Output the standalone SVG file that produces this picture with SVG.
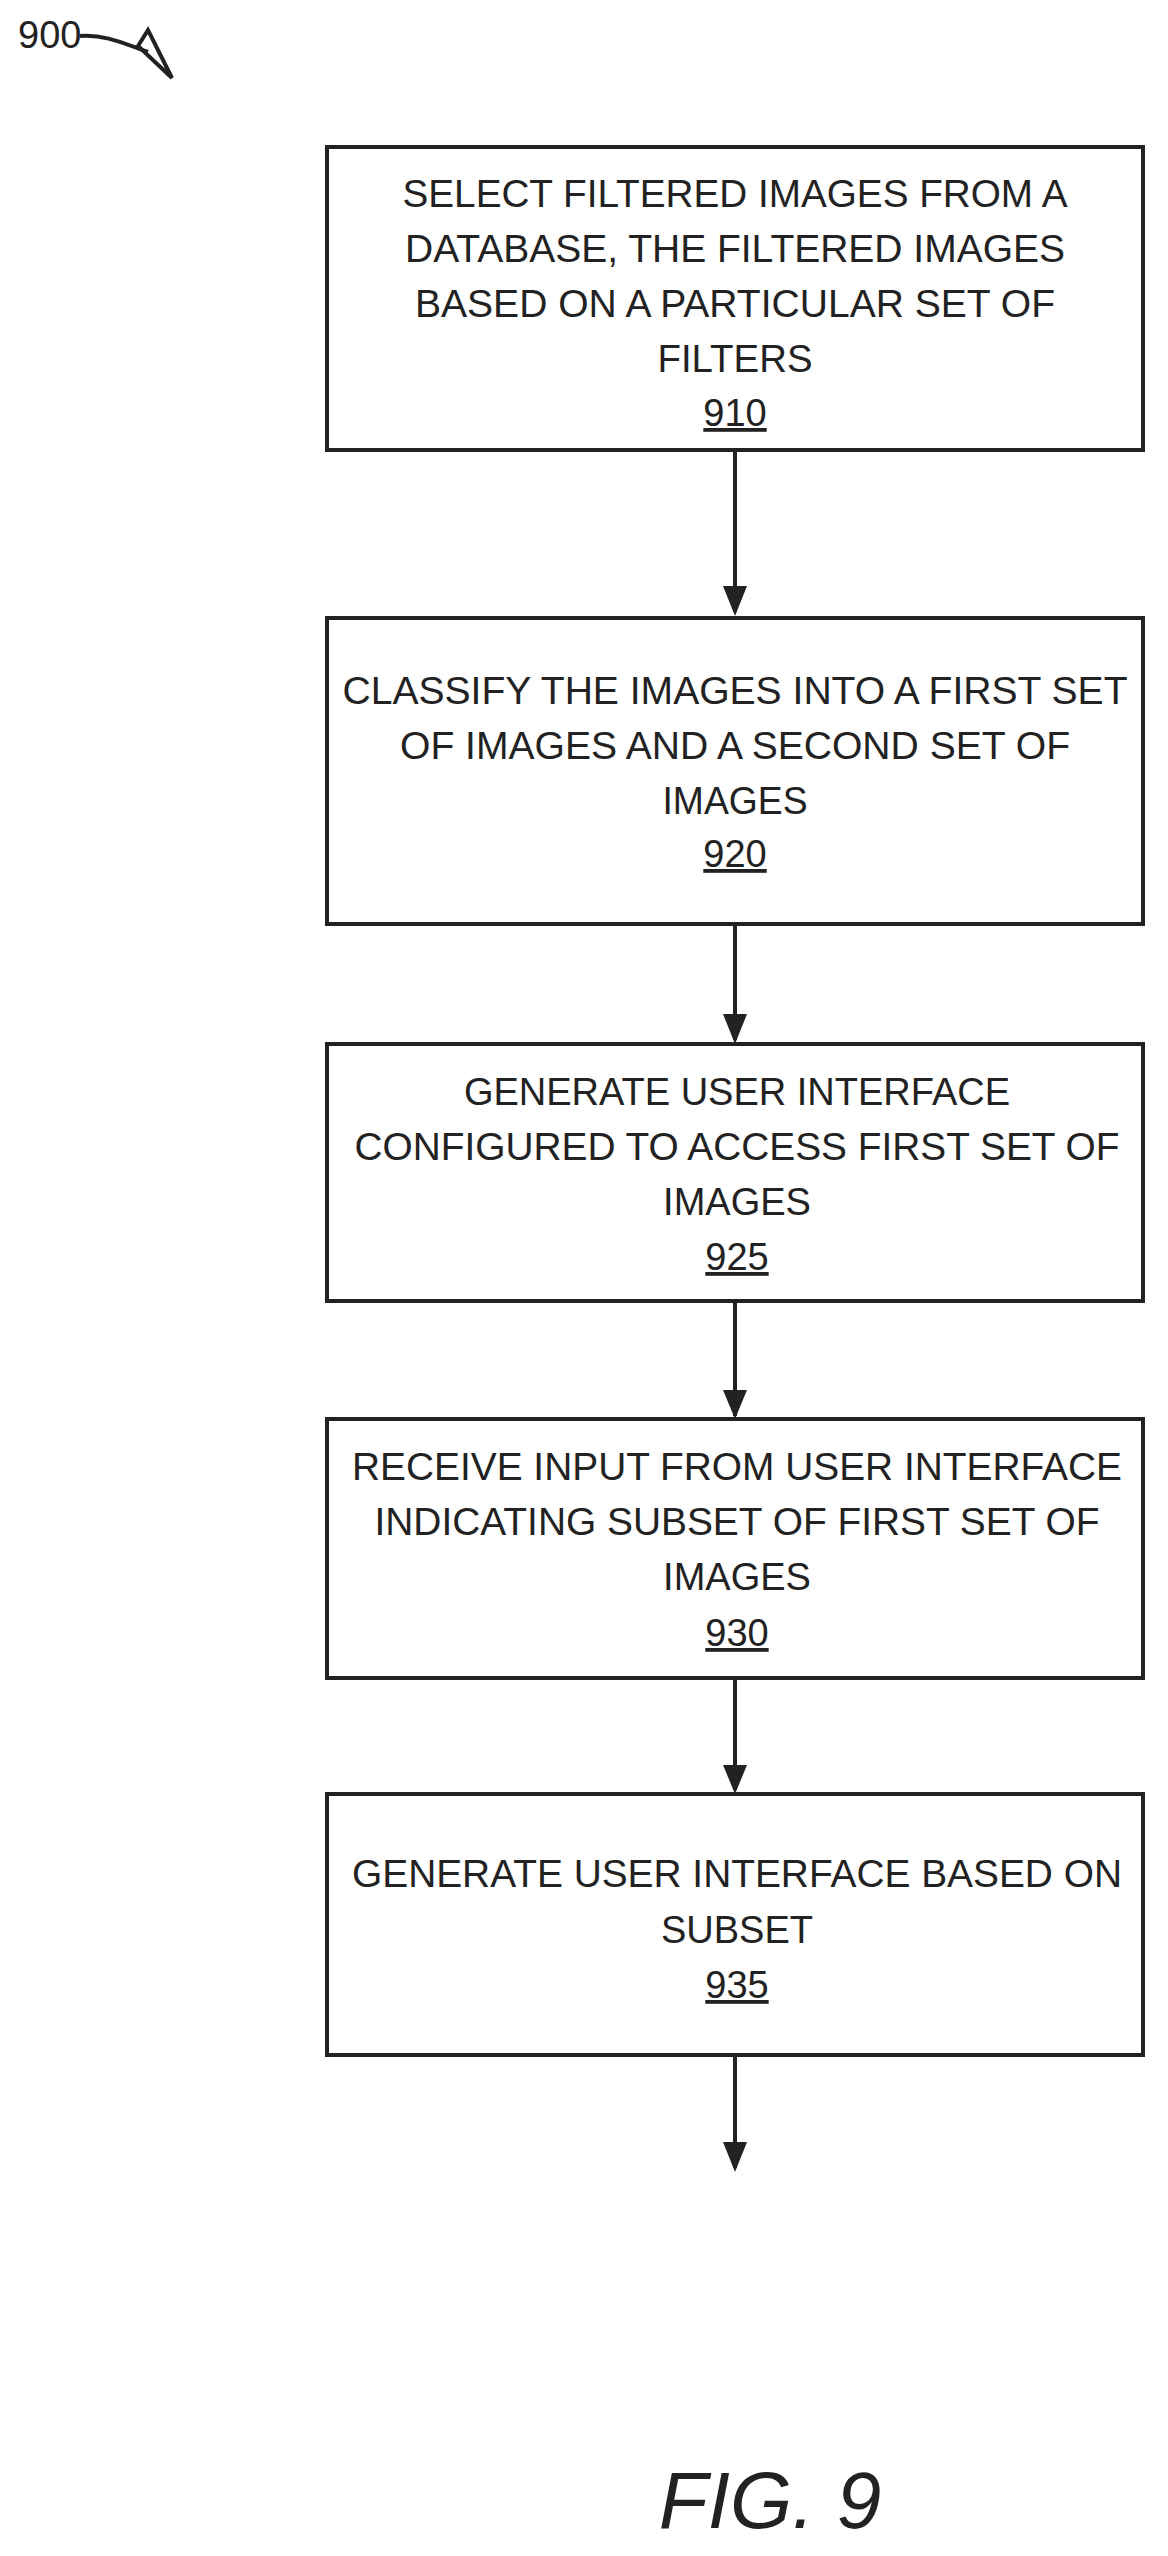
<svg xmlns="http://www.w3.org/2000/svg" width="1168" height="2556" viewBox="0 0 1168 2556">
<style>
.box{fill:#fff;stroke:#222;stroke-width:4}
.t{font-family:"Liberation Sans",Arial,sans-serif;font-size:38px;fill:#222;text-anchor:middle}
.n{text-decoration:underline}
.c{stroke:#222;stroke-width:4;fill:none}
.ah{fill:#222}
</style>
<rect width="1168" height="2556" fill="#fff"/>
<g id="label900">
<text x="18" y="48" class="t" style="text-anchor:start">900</text>
<path d="M80,36 C105,34 125,44 148,52" class="c" stroke-width="3"/>
<path d="M138,46 L148,30 L172,78 z" class="c" stroke-width="3"/>
</g>
<g id="connectors">
<line x1="735" y1="450" x2="735" y2="612" class="c"/>
<path d="M723,586 L747,586 L735,616 z" class="ah"/>
<line x1="735" y1="924" x2="735" y2="1040" class="c"/>
<path d="M723,1014 L747,1014 L735,1044 z" class="ah"/>
<line x1="735" y1="1301" x2="735" y2="1416" class="c"/>
<path d="M723,1390 L747,1390 L735,1419 z" class="ah"/>
<line x1="735" y1="1678" x2="735" y2="1790" class="c"/>
<path d="M723,1765 L747,1765 L735,1794 z" class="ah"/>
<line x1="735" y1="2055" x2="735" y2="2168" class="c"/>
<path d="M723,2142 L747,2142 L735,2172 z" class="ah"/>
</g>
<g id="n910">
<rect x="327" y="147" width="816" height="303" class="box"/>
<text class="t" x="735" y="207" textLength="665" lengthAdjust="spacingAndGlyphs">SELECT FILTERED IMAGES FROM A</text>
<text class="t" x="735" y="262" textLength="660" lengthAdjust="spacingAndGlyphs">DATABASE, THE FILTERED IMAGES</text>
<text class="t" x="735" y="317" textLength="640" lengthAdjust="spacingAndGlyphs">BASED ON A PARTICULAR SET OF</text>
<text class="t" x="735" y="372" textLength="155" lengthAdjust="spacingAndGlyphs">FILTERS</text>
<text class="t n" x="735" y="426">910</text>
</g>
<g id="n920">
<rect x="327" y="618" width="816" height="306" class="box"/>
<text class="t" x="735" y="704" textLength="785" lengthAdjust="spacingAndGlyphs">CLASSIFY THE IMAGES INTO A FIRST SET</text>
<text class="t" x="735" y="759" textLength="670" lengthAdjust="spacingAndGlyphs">OF IMAGES AND A SECOND SET OF</text>
<text class="t" x="735" y="814" textLength="145" lengthAdjust="spacingAndGlyphs">IMAGES</text>
<text class="t n" x="735" y="867">920</text>
</g>
<g id="n925">
<rect x="327" y="1044" width="816" height="257" class="box"/>
<text class="t" x="737" y="1105">GENERATE USER INTERFACE</text>
<text class="t" x="737" y="1160" textLength="765" lengthAdjust="spacingAndGlyphs">CONFIGURED TO ACCESS FIRST SET OF</text>
<text class="t" x="737" y="1215">IMAGES</text>
<text class="t n" x="737" y="1270">925</text>
</g>
<g id="n930">
<rect x="327" y="1419" width="816" height="259" class="box"/>
<text class="t" x="737" y="1480" textLength="770" lengthAdjust="spacingAndGlyphs">RECEIVE INPUT FROM USER INTERFACE</text>
<text class="t" x="737" y="1535" textLength="725" lengthAdjust="spacingAndGlyphs">INDICATING SUBSET OF FIRST SET OF</text>
<text class="t" x="737" y="1590">IMAGES</text>
<text class="t n" x="737" y="1646">930</text>
</g>
<g id="n935">
<rect x="327" y="1794" width="816" height="261" class="box"/>
<text class="t" x="737" y="1887" textLength="770" lengthAdjust="spacingAndGlyphs">GENERATE USER INTERFACE BASED ON</text>
<text class="t" x="737" y="1943">SUBSET</text>
<text class="t n" x="737" y="1998">935</text>
</g>
<text class="t" x="770" y="2528" style="font-size:80px;font-style:italic">FIG. 9</text>
</svg>
